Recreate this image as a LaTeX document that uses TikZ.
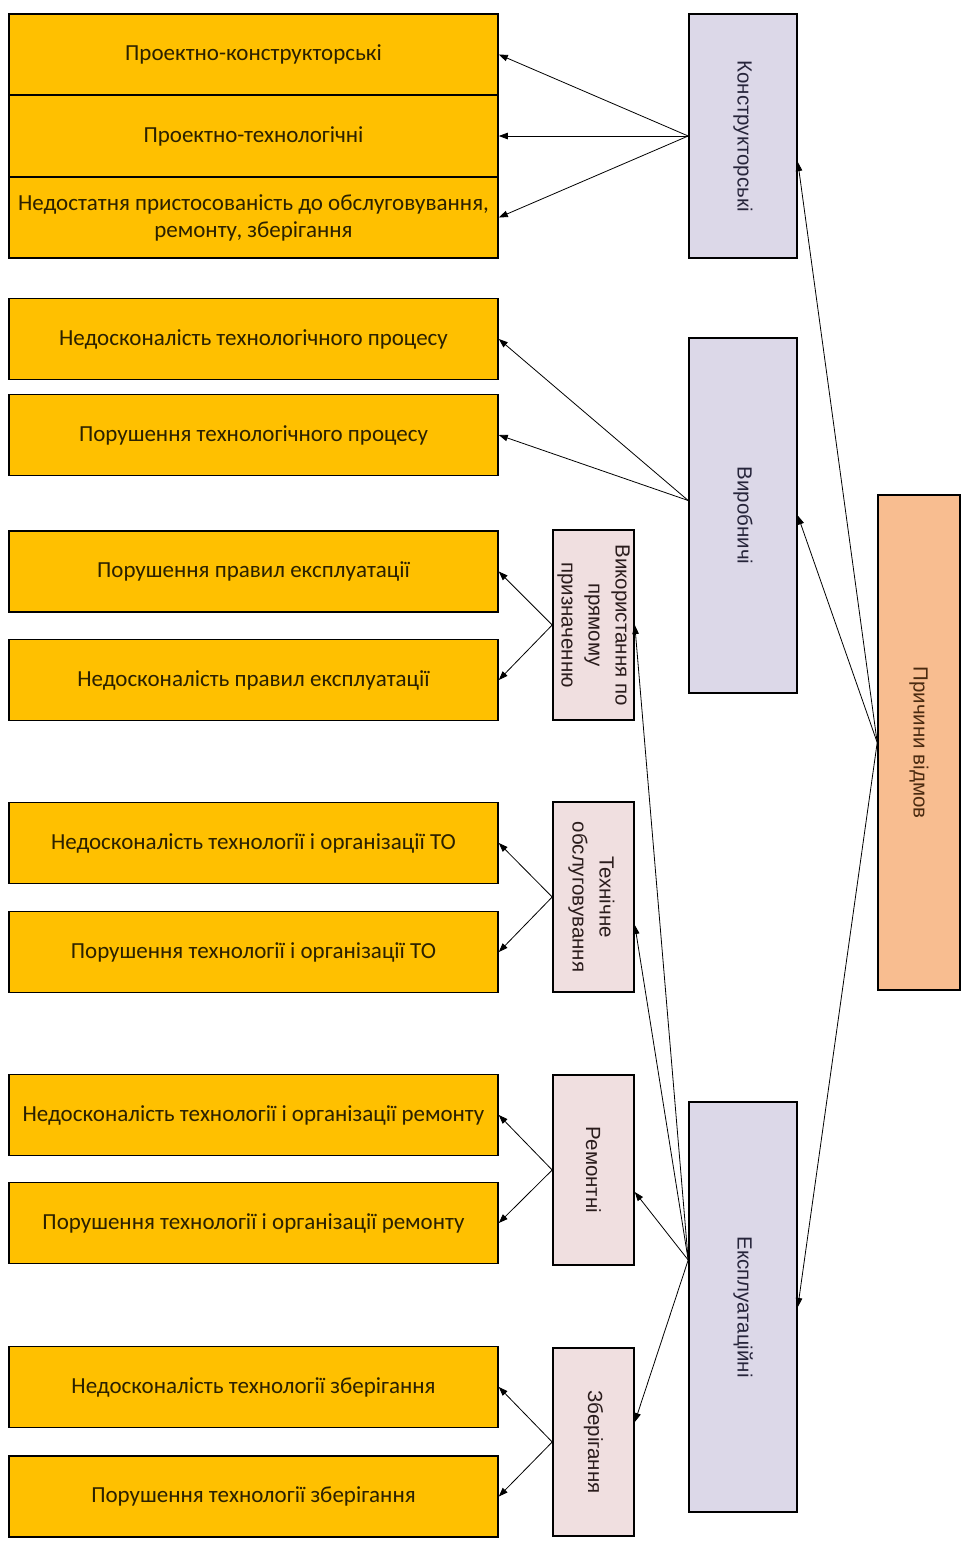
\documentclass[tikz,border=0pt]{standalone}
\usepackage{fontspec}
\setmainfont{Carlito}
\newfontfamily\arialf{Liberation Sans}
\usetikzlibrary{arrows.meta,calc}
\definecolor{yboxc}{HTML}{FFC000}
\definecolor{lavc}{HTML}{DCD8E8}
\definecolor{pinkc}{HTML}{F0DFE0}
\definecolor{peachc}{HTML}{F8BD90}
\definecolor{ytext}{HTML}{2B2100}
\definecolor{ltext}{HTML}{26243A}
\definecolor{ptext}{HTML}{2A1C1C}
\definecolor{rtext}{HTML}{4A2A10}
\begin{document}
\begin{tikzpicture}[x=1pt,y=-1pt,
  ybox/.style={draw=black, line width=1.6pt, fill=yboxc, minimum width=489pt,
    minimum height=81pt, inner sep=0pt, align=center, text=ytext,
    font=\fontsize{23}{27}\selectfont},
  lbox/.style={draw=black, line width=1.6pt, fill=lavc, minimum width=108pt, inner sep=0pt},
  pbox/.style={draw=black, line width=1.6pt, fill=pinkc, minimum width=81pt, inner sep=0pt},
  rbox/.style={draw=black, line width=1.6pt, fill=peachc, minimum width=82pt, inner sep=0pt},
  vtext/.style={rotate=-90, inner sep=0pt, align=center, font=\arialf\fontsize{20.5}{27}\selectfont},
  conn/.style={-{Triangle[length=9pt,width=6.5pt]}, line width=0.8pt, draw=black}
]
\useasboundingbox (0,0) rectangle (969,1551);

% yellow boxes
\node[ybox] (y1) at (253.5,54.5) {Проектно-конструкторські};
\node[ybox] (y2) at (253.5,136) {Проектно-технологічні};
\node[ybox] (y3) at (253.5,217.5) {Недостатня пристосованість до обслуговування,\\ремонту, зберігання};
\node[ybox] (y4) at (253.5,339) {Недосконалість технологічного процесу};
\node[ybox] (y5) at (253.5,435) {Порушення технологічного процесу};
\node[ybox] (y6) at (253.5,571.5) {Порушення правил експлуатації};
\node[ybox] (y7) at (253.5,680) {Недосконалість правил експлуатації};
\node[ybox] (y8) at (253.5,843) {Недосконалість технології і організації ТО};
\node[ybox] (y9) at (253.5,952) {Порушення технології і організації ТО};
\node[ybox] (y10) at (253.5,1115) {Недосконалість технології і організації ремонту};
\node[ybox] (y11) at (253.5,1223) {Порушення технології і організації ремонту};
\node[ybox] (y12) at (253.5,1387) {Недосконалість технології зберігання};
\node[ybox] (y13) at (253.5,1496.5) {Порушення технології зберігання};

% lavender boxes
\node[lbox, minimum height=244pt] (kon) at (743,136) {};
\node[vtext, text=ltext] (konT) at (kon) {Конструкторські};
\node[lbox, minimum height=355pt] (vyr) at (743,515.5) {};
\node[vtext, text=ltext] (vyrT) at (vyr) {Виробничі};
\node[lbox, minimum height=410pt] (eks) at (743,1307) {};
\node[vtext, text=ltext] (eksT) at (eks) {Експлуатаційні};

% pink boxes
\node[pbox, minimum height=190pt] (vyk) at (593.5,625) {};
\node[vtext, text=ptext] (vykT) at (vyk) {Використання по\\прямому\\призначенню};
\node[pbox, minimum height=190pt] (teh) at (593.5,897) {};
\node[vtext, text=ptext] (tehT) at ([xshift=-2pt]teh.center) {Технічне\\обслуговування};
\node[pbox, minimum height=190pt] (rem) at (593.5,1170) {};
\node[vtext, text=ptext] (remT) at (rem) {Ремонтні};
\node[pbox, minimum height=188pt] (zber) at (593.5,1442) {};
\node[vtext, text=ptext] (zberT) at (zber) {Зберігання};

% root
\node[rbox, minimum height=495pt] (root) at (919,742.5) {};
\node[vtext, text=rtext] (rootT) at (root) {Причини відмов};

% connectors from root
\draw[conn] (root.west) -- ([yshift=-26pt]kon.east);
\draw[conn] (root.west) -- (vyr.east);
\draw[conn] (root.west) -- (eks.east);

% Конструкторські
\draw[conn] (kon.west) -- (y1.east);
\draw[conn] (kon.west) -- (y2.east);
\draw[conn] (kon.west) -- (y3.east);

% Виробничі
\draw[conn] ([yshift=15pt]vyr.west) -- (y4.east);
\draw[conn] ([yshift=15pt]vyr.west) -- (y5.east);

% Експлуатаційні
\draw[conn] ([yshift=47pt]eks.west) -- (vyk.east);
\draw[conn] ([yshift=47pt]eks.west) -- ([yshift=-28pt]teh.east);
\draw[conn] ([yshift=47pt]eks.west) -- ([yshift=-22pt]rem.east);
\draw[conn] ([yshift=47pt]eks.west) -- ([yshift=20pt]zber.east);

% middle boxes to causes
\draw[conn] (vyk.west) -- (y6.east);
\draw[conn] (vyk.west) -- (y7.east);
\draw[conn] (teh.west) -- (y8.east);
\draw[conn] (teh.west) -- (y9.east);
\draw[conn] (rem.west) -- (y10.east);
\draw[conn] (rem.west) -- (y11.east);
\draw[conn] (zber.west) -- (y12.east);
\draw[conn] (zber.west) -- (y13.east);
\end{tikzpicture}
\end{document}
